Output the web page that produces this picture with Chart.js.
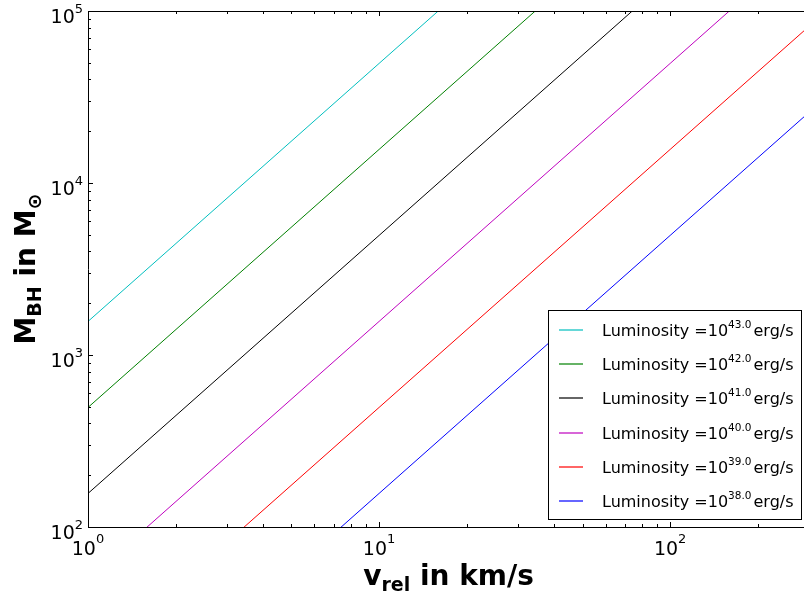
<!DOCTYPE html>
<html>
<head>
<meta charset="utf-8">
<script src="https://cdn.jsdelivr.net/npm/chart.js@4/dist/chart.umd.min.js"></script>
<style>
  html, body { margin: 0; padding: 0; overflow: hidden; background: #ffffff; }
  #wrap { width: 820px; height: 599px; }
</style>
</head>
<body>
<div id="wrap"><canvas id="c" width="820" height="599"></canvas></div>
<script>
// Relative velocity (km/s) at which each curve is sampled
const velocities = [1, 10, 100, 300];

// Black-hole mass (solar masses) for each luminosity
const massL43 = [1567, 49550, 1567000, 8140000];
const massL42 = [495.5, 15670, 495500, 2574000];
const massL41 = [156.7, 4955, 156700, 814000];
const massL40 = [49.55, 1567, 49550, 257400];
const massL39 = [15.67, 495.5, 15670, 81400];
const massL38 = [4.955, 156.7, 4955, 25740];

const luminosityExponents = ['43.0', '42.0', '41.0', '40.0', '39.0', '38.0'];
const massSeries = [massL43, massL42, massL41, massL40, massL39, massL38];

// Decade tick exponents on each axis
const xTickExponents = [0, 1, 2];
const yTickExponents = [2, 3, 4, 5];

const lineColors = ['#00bfbf', '#008000', '#000000', '#bf00bf', '#ff0000', '#0000ff'];
const FONT = '"DejaVu Sans", "Liberation Sans", sans-serif';

const datasets = massSeries.map((masses, i) => ({
  label: 'Luminosity =10^' + luminosityExponents[i] + ' erg/s',
  data: velocities.map((v, j) => ({ x: v, y: masses[j] })),
  borderColor: lineColors[i],
  borderWidth: 1,
  pointRadius: 0,
  tension: 0,
  fill: false
}));

// Text runs with raised/lowered pieces, drawn left to right from x on baseline y
function measureRich(ctx, parts) {
  let w = 0;
  for (const p of parts) { ctx.font = p.font; w += ctx.measureText(p.text).width + (p.gap || 0); }
  return w;
}
function drawRich(ctx, parts, x, y) {
  let cx = x;
  for (const p of parts) {
    ctx.font = p.font;
    cx += (p.gap || 0);
    ctx.fillText(p.text, cx, y + (p.dy || 0));
    cx += ctx.measureText(p.text).width;
  }
  return cx;
}

function minorValues(min, max) {
  const out = [];
  for (let k = -1; k <= 6; k++) {
    for (let d = 1; d <= 9; d++) {
      const v = d * Math.pow(10, k);
      if (v >= min * 0.9999 && v <= max * 1.0001) out.push({ v, major: d === 1 });
    }
  }
  return out;
}

const framePlugin = {
  id: 'frame',
  afterDraw(chart) {
    const ctx = chart.ctx;
    const a = chart.chartArea;
    const xs = chart.scales.x, ys = chart.scales.y;
    ctx.save();
    ctx.textAlign = 'left';
    ctx.textBaseline = 'alphabetic';
    ctx.fillStyle = '#000';

    // spines
    ctx.strokeStyle = '#000';
    ctx.lineWidth = 1;
    ctx.beginPath();
    ctx.rect(Math.round(a.left) + 0.5, Math.round(a.top) + 0.5,
             Math.round(a.right - a.left), Math.round(a.bottom - a.top));
    ctx.stroke();

    // inward ticks on all four sides
    ctx.beginPath();
    for (const t of minorValues(xs.min, xs.max)) {
      const px = Math.round(xs.getPixelForValue(t.v)) + 0.5;
      const len = t.major ? 5 : 3;
      ctx.moveTo(px, a.bottom); ctx.lineTo(px, a.bottom - len);
      ctx.moveTo(px, a.top); ctx.lineTo(px, a.top + len);
    }
    for (const t of minorValues(ys.min, ys.max)) {
      const py = Math.round(ys.getPixelForValue(t.v)) + 0.5;
      const len = t.major ? 5 : 3;
      ctx.moveTo(a.left, py); ctx.lineTo(a.left + len, py);
      ctx.moveTo(a.right, py); ctx.lineTo(a.right - len, py);
    }
    ctx.stroke();

    // tick labels
    const base = '19px ' + FONT, sup = '13px ' + FONT;
    for (const e of xTickExponents) {
      const px = xs.getPixelForValue(Math.pow(10, e));
      const parts = [{ text: '10', font: base }, { text: String(e), font: sup, dy: -12 }];
      const w = measureRich(ctx, parts);
      drawRich(ctx, parts, px - w / 2, a.bottom + 28);
    }
    for (const e of yTickExponents) {
      const py = ys.getPixelForValue(Math.pow(10, e));
      const parts = [{ text: '10', font: base }, { text: String(e), font: sup, dy: -10 }];
      const w = measureRich(ctx, parts);
      drawRich(ctx, parts, a.left - 5 - w, py + 12);
    }

    // x axis title
    const tb = 'bold 28px ' + FONT, ts = 'bold 19px ' + FONT;
    const xTitle = [{ text: 'v', font: tb }, { text: 'rel', font: ts, dy: 6 }, { text: ' in km/s', font: tb }];
    const xw = measureRich(ctx, xTitle);
    drawRich(ctx, xTitle, (a.left + a.right) / 2 - xw / 2, 585);

    // y axis title
    const yTitle = [{ text: 'M', font: tb }, { text: 'BH', font: ts, dy: 6 },
                    { text: ' in M', font: tb }, { text: '\u2299', font: ts, dy: 6 }];
    const yw = measureRich(ctx, yTitle);
    ctx.save();
    ctx.translate(35, (a.top + a.bottom) / 2);
    ctx.rotate(-Math.PI / 2);
    drawRich(ctx, yTitle, -yw / 2, 0);
    ctx.restore();

    // legend
    const lx = 548, ly = 310, lw = 253, lh = 209;
    ctx.fillStyle = '#fff';
    ctx.fillRect(lx, ly, lw, lh);
    ctx.strokeStyle = '#000';
    ctx.lineWidth = 1;
    ctx.strokeRect(lx + 0.5, ly + 0.5, lw, lh);
    const lf = '16px ' + FONT, lsup = '10.5px ' + FONT;
    chart.data.datasets.forEach((ds, i) => {
      const cy = Math.round(330 + i * 34.2);
      ctx.strokeStyle = ds.borderColor;
      ctx.lineWidth = 1.2;
      ctx.beginPath();
      ctx.moveTo(559, cy);
      ctx.lineTo(583, cy);
      ctx.stroke();
      ctx.fillStyle = '#000';
      drawRich(ctx, [
        { text: 'Luminosity =10', font: lf },
        { text: luminosityExponents[i], font: lsup, dy: -7.5 },
        { text: 'erg/s', font: lf, gap: 2 }
      ], 602, cy + 5.5);
    });
    ctx.restore();
  }
};

new Chart(document.getElementById('c'), {
  type: 'line',
  data: { datasets },
  options: {
    responsive: false,
    animation: false,
    layout: { padding: { top: 11, right: 11, left: 0, bottom: 0 } },
    plugins: { legend: { display: false }, tooltip: { enabled: false } },
    scales: {
      x: {
        type: 'logarithmic', min: 1, max: 300,
        grid: { display: false, drawTicks: false },
        border: { display: false },
        ticks: { display: false },
        afterFit(s) { s.height = 72; }
      },
      y: {
        type: 'logarithmic', min: 100, max: 100000,
        grid: { display: false, drawTicks: false },
        border: { display: false },
        ticks: { display: false },
        afterFit(s) { s.width = 88; }
      }
    }
  },
  plugins: [framePlugin]
});
</script>
</body>
</html>
